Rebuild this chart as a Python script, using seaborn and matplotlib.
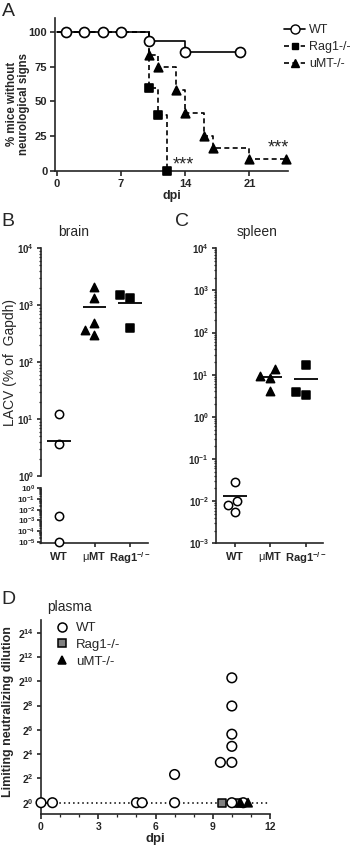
import numpy as np
import pandas as pd
import matplotlib
matplotlib.use('Agg')
import matplotlib.pyplot as plt
import seaborn as sns
from matplotlib.lines import Line2D
from matplotlib.ticker import FixedLocator, LogLocator, NullFormatter, MultipleLocator

# --- A: survival (Kaplan-Meier steps) ---
wt_days = [0, 1, 3, 5, 7, 10, 14, 20]
wt_surv = [100, 100, 100, 100, 100, 93.75, 85.7, 85.7]
rag_days = [0, 10, 11, 12]
rag_surv = [100, 60, 40, 0]
umt_days = [0, 10, 11, 13, 14, 16, 17, 21, 25]
umt_surv = [100, 83.3, 75, 58.3, 41.7, 25, 16.7, 8.3, 8.3]

# --- B: brain LACV (% of Gapdh) ---
groups = ['WT', 'μMT', 'Rag1']
brain_wt = [12.5, 3.7, 0.0025, 0.00001]
brain_umt = [2100, 1350, 480, 365, 300]
brain_rag = [1500, 1340, 400]

# --- C: spleen ---
spleen_wt = [0.028, 0.010, 0.0082, 0.0056]
spleen_umt = [13.4, 9.5, 8.2, 4.2]
spleen_rag = [17, 3.8, 3.3]

# --- D: plasma neutralizing titres ---
wt_dpi = [0, 0.6, 5.0, 5.3, 7, 7, 9.4, 10, 10, 10, 10, 10, 10, 10.6]
wt_titer = [1, 1, 1, 1, 1, 5, 10, 1, 10, 25, 50, 250, 1250, 1]
rag_dpi = [9.5, 10.25]
rag_titer = [1, 1]
umt_dpi = [10.45, 10.85]
umt_titer = [1, 1]

sns.set_style('ticks')
plt.rcParams['font.family'] = ['Liberation Sans', 'DejaVu Sans']
plt.rcParams['mathtext.fontset'] = 'custom'
plt.rcParams['mathtext.rm'] = 'Liberation Sans'
plt.rcParams['mathtext.bf'] = 'Liberation Sans:bold'
plt.rcParams['mathtext.it'] = 'Liberation Sans:italic'
plt.rcParams['axes.linewidth'] = 1.2
plt.rcParams['xtick.major.width'] = 1.2
plt.rcParams['ytick.major.width'] = 1.2
plt.rcParams['xtick.minor.width'] = 0.9
plt.rcParams['ytick.minor.width'] = 0.9
plt.rcParams['xtick.major.size'] = 3.5
plt.rcParams['ytick.major.size'] = 3.5
plt.rcParams['xtick.major.pad'] = 2
plt.rcParams['ytick.major.pad'] = 2

W, H = 358, 852
fig = plt.figure(figsize=(W / 100, H / 100), dpi=100)


def add_ax(x0, x1, y0, y1):
    a = fig.add_axes([x0 / W, 1 - y1 / H, (x1 - x0) / W, (y1 - y0) / H])
    a.spines['top'].set_visible(False)
    a.spines['right'].set_visible(False)
    a.patch.set_alpha(0)
    return a


def bold_ticks(a, size):
    for lab in a.get_xticklabels() + a.get_yticklabels():
        lab.set_fontweight('bold')
        lab.set_fontsize(size)


# ---------------- Panel A ----------------
axA = add_ax(55, 288, 18, 171)
curves = [('Rag1-/-', rag_days, rag_surv, 's', 'black', 30, (3, 2)),
          ('uMT-/-', umt_days, umt_surv, '^', 'black', 38, (3, 2)),
          ('WT', wt_days, wt_surv, 'o', 'white', 52, None)]
for name, d, s, mk, fc, sz, dash in curves:
    df = pd.DataFrame({'day': d, 'surv': s})
    sns.lineplot(data=df, x='day', y='surv', color='black', lw=1.2,
                 estimator=None, sort=False, drawstyle='steps-post', ax=axA)
    if dash is not None:
        axA.lines[-1].set_dashes(dash)
    sns.scatterplot(data=df.iloc[1:], x='day', y='surv', marker=mk, s=sz,
                    color=fc, edgecolor='black', linewidth=1.2, zorder=4,
                    clip_on=False, ax=axA)
axA.set_xlim(-0.2, 25.2)
axA.set_ylim(0, 110)
axA.set_xticks([0, 7, 14, 21])
axA.set_yticks([0, 25, 50, 75, 100])
bold_ticks(axA, 8)
axA.set_xlabel('dpi', fontweight='bold', fontsize=9, labelpad=1)
axA.set_ylabel('')
axA.text(13.8, 4, '***', ha='center', va='center', fontsize=13)
axA.text(24.1, 16.5, '***', ha='center', va='center', fontsize=13)
fig.text(18 / W, 1 - 104 / H, '% mice without\nneurological signs', rotation=90,
         ha='center', va='center', fontsize=8.3, fontweight='bold', linespacing=1.05)

legA = [Line2D([0], [0], color='k', lw=1.2, marker='o', mfc='white', mec='k', ms=6.5),
        Line2D([0], [0], color='k', lw=1.2, ls=(0, (3, 2)), marker='s', mfc='k', mec='k', ms=5),
        Line2D([0], [0], color='k', lw=1.2, ls=(0, (3, 2)), marker='^', mfc='k', mec='k', ms=5.5)]
fig.legend(legA, ['WT', 'Rag1-/-', 'uMT-/-'], loc='upper left',
           bbox_to_anchor=(284 / W, 1 - 24 / H), frameon=False, fontsize=9,
           handlelength=1.7, handletextpad=0.3, labelspacing=0.4, borderaxespad=0,
           borderpad=0)
fig.text(8 / W, 1 - 11 / H, 'A', fontsize=14, ha='center', va='center')


# ---------------- Panels B / C helpers ----------------
def log_axis(a, lo, hi, exps, fs=7):
    a.set_yscale('log')
    a.set_ylim(lo, hi)
    a.yaxis.set_major_locator(FixedLocator([10.0 ** e for e in exps]))
    a.set_yticklabels([r'$\mathbf{10^{%d}}$' % e for e in exps], fontsize=fs)
    a.yaxis.set_minor_locator(LogLocator(base=10, subs=np.arange(2, 10), numticks=20))
    a.yaxis.set_minor_formatter(NullFormatter())
    a.tick_params(axis='y', which='major', length=3)
    a.tick_params(axis='y', which='minor', length=1.6)


def swarm_groups(a, vals_by_group, size=6):
    styles = {'WT': ('o', 'white'), 'μMT': ('^', 'black'), 'Rag1': ('s', 'black')}
    for g, vals in vals_by_group.items():
        if len(vals) == 0:
            continue
        df = pd.DataFrame({'group': [g] * len(vals), 'val': vals})
        mk, fc = styles[g]
        sns.swarmplot(data=df, x='group', y='val', order=groups, marker=mk,
                      color=fc, edgecolor='black', linewidth=1.1, size=size,
                      clip_on=False, zorder=3, ax=a)
    a.set_xlabel('')
    a.set_ylabel('')


def mean_lines(a, vals_by_group, lo, hi):
    for i, g in enumerate(groups):
        m = np.mean(vals_by_group[g])
        if lo <= m <= hi:
            a.hlines(m, i - 0.33, i + 0.33, color='black', lw=1.3, zorder=4)


xlabels = [r'$\mathbf{WT}$', r'μ$\mathbf{MT}$', r'$\mathbf{Rag1^{-/-}}$']

# ---------------- Panel B ----------------
brain = {'WT': brain_wt, 'μMT': brain_umt, 'Rag1': brain_rag}
axB1 = add_ax(41, 148, 248.3, 476)
axB2 = add_ax(41, 148, 488.3, 543.3)
swarm_groups(axB1, {g: [v for v in brain[g] if v >= 1] for g in groups})
swarm_groups(axB2, {g: [v for v in brain[g] if v < 1] for g in groups})
mean_lines(axB1, brain, 1, 1e4)
axB1.set_xlim(-0.5, 2.5)
axB2.set_xlim(-0.5, 2.5)
log_axis(axB1, 1, 1e4, [0, 1, 2, 3, 4])
log_axis(axB2, 10 ** -5.15, 1, [0, -1, -2, -3, -4, -5], fs=6)
axB2.tick_params(axis='y', which='major', pad=1)
axB1.spines['bottom'].set_visible(False)
axB1.tick_params(axis='x', bottom=False, labelbottom=False)
axB2.set_xticks([0, 1, 2])
axB2.set_xticklabels(xlabels, fontsize=8)
axB2.tick_params(axis='x', length=3, pad=2)
fig.text(10 / W, 1 - 362 / H, 'LACV (% of  Gapdh)', rotation=90, ha='center',
         va='center', fontsize=10)
fig.text(74 / W, 1 - 232 / H, 'brain', ha='center', va='center', fontsize=10)
fig.text(8 / W, 1 - 221 / H, 'B', fontsize=14, ha='center', va='center')

# ---------------- Panel C ----------------
spleen = {'WT': spleen_wt, 'μMT': spleen_umt, 'Rag1': spleen_rag}
axC = add_ax(216, 323, 248.3, 543.3)
swarm_groups(axC, spleen)
mean_lines(axC, spleen, 1e-3, 1e4)
axC.set_xlim(-0.53, 2.48)
log_axis(axC, 1e-3, 1e4, [-3, -2, -1, 0, 1, 2, 3, 4])
axC.set_xticks([0, 1, 2])
axC.set_xticklabels(xlabels, fontsize=8)
axC.tick_params(axis='x', length=3, pad=2)
fig.text(257 / W, 1 - 232 / H, 'spleen', ha='center', va='center', fontsize=10)
fig.text(182 / W, 1 - 221 / H, 'C', fontsize=14, ha='center', va='center')

# ---------------- Panel D ----------------
axD = add_ax(41, 270, 620, 814.3)
dfD = pd.concat([
    pd.DataFrame({'dpi': rag_dpi, 'titer': rag_titer, 'group': 'Rag1-/-'}),
    pd.DataFrame({'dpi': wt_dpi, 'titer': wt_titer, 'group': 'WT'}),
    pd.DataFrame({'dpi': umt_dpi, 'titer': umt_titer, 'group': 'uMT-/-'}),
], ignore_index=True)
axD.axhline(1, color='black', lw=1.1, ls=(0, (1, 2)), zorder=1)
sns.scatterplot(data=dfD, x='dpi', y='titer', hue='group', style='group', size='group',
                markers={'WT': 'o', 'Rag1-/-': 's', 'uMT-/-': '^'},
                palette={'WT': 'white', 'Rag1-/-': '#808080', 'uMT-/-': 'black'},
                sizes={'WT': 48, 'Rag1-/-': 34, 'uMT-/-': 36},
                edgecolor='black', linewidth=1.1, legend=False, clip_on=False,
                zorder=3, ax=axD)
axD.set_yscale('log', base=2)
axD.set_ylim(2 ** -0.955, 2 ** 15.05)
axD.set_xlim(0, 12)
axD.yaxis.set_major_locator(FixedLocator([2.0 ** e for e in range(0, 15, 2)]))
axD.set_yticklabels([r'$\mathbf{2^{%d}}$' % e for e in range(0, 15, 2)], fontsize=7.5)
axD.yaxis.set_minor_locator(FixedLocator([]))
axD.set_xticks([0, 3, 6, 9, 12])
axD.xaxis.set_minor_locator(MultipleLocator(1))
axD.tick_params(axis='x', which='minor', length=2)
axD.tick_params(axis='y', length=3)
for lab in axD.get_xticklabels():
    lab.set_fontweight('bold')
    lab.set_fontsize(7.5)
axD.set_xlabel('dpi', fontweight='bold', fontsize=9.5, labelpad=1)
axD.set_ylabel('')
fig.text(8 / W, 1 - 712 / H, 'Limiting neutralizing dilution', rotation=90,
         ha='center', va='center', fontsize=9, fontweight='bold')
legD = [Line2D([0], [0], ls='none', marker='o', mfc='white', mec='k', mew=1.1, ms=6.5),
        Line2D([0], [0], ls='none', marker='s', mfc='#808080', mec='k', mew=1.1, ms=5.5),
        Line2D([0], [0], ls='none', marker='^', mfc='k', mec='k', mew=1.1, ms=6)]
fig.legend(legD, ['WT', 'Rag1-/-', 'uMT-/-'], loc='upper left',
           bbox_to_anchor=(55 / W, 1 - 622 / H), frameon=False, fontsize=9.5,
           handlelength=1.0, handletextpad=0.6, labelspacing=0.35, borderaxespad=0,
           borderpad=0)
fig.text(70 / W, 1 - 607 / H, 'plasma', ha='center', va='center', fontsize=10)
fig.text(8 / W, 1 - 600 / H, 'D', fontsize=14, ha='center', va='center')

fig.savefig('out.png', dpi=100)
